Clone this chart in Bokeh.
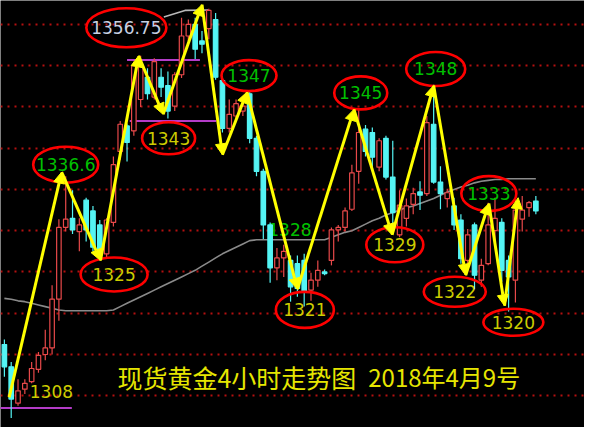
from bokeh.plotting import figure
from bokeh.models import ColumnDataSource, Range1d, Arrow, NormalHead, FixedTicker
from bokeh.core.properties import value
from bokeh.embed import file_html
from bokeh.resources import INLINE

# ---------------- data ----------------
opens = [1316.2, 1313.5, 1309.1, 1310.8, 1311.7, 1313.2, 1315.0, 1315.8, 1321.7, 1330.4,
         1331.5, 1329.9, 1333.7, 1332.4, 1330.7, 1327.2, 1331.0, 1339.6, 1342.7, 1342.1,
         1345.9, 1348.6, 1346.2, 1348.6, 1347.6, 1345.1, 1348.9, 1353.6, 1355.0, 1353.0,
         1354.5, 1355.6, 1348.2, 1342.4, 1343.9, 1344.5, 1346.6, 1341.2, 1337.2, 1330.7,
         1325.5, 1326.7, 1326.4, 1326.0, 1326.4, 1322.8, 1324.0, 1325.0, 1326.4, 1330.1,
         1330.4, 1332.6, 1337.2, 1342.3, 1341.9, 1337.7, 1341.2, 1336.5, 1329.5, 1331.5,
         1333.2, 1334.7, 1334.5, 1342.9, 1335.9, 1333.9, 1333.0, 1331.3, 1326.4, 1330.7,
         1324.0, 1326.0, 1330.0, 1331.0, 1326.4, 1324.0, 1331.4, 1332.8, 1333.6]
highs = [1316.8, 1314.1, 1312.0, 1312.0, 1314.1, 1315.3, 1318.0, 1323.4, 1331.4, 1336.6,
         1334.9, 1331.5, 1334.0, 1333.0, 1331.3, 1331.5, 1339.0, 1343.3, 1343.0, 1350.5,
         1351.2, 1349.7, 1350.9, 1349.7, 1349.3, 1349.2, 1355.8, 1355.6, 1355.8, 1354.2,
         1356.9, 1356.4, 1348.6, 1345.9, 1345.9, 1345.9, 1347.0, 1341.5, 1337.5, 1331.0,
         1327.9, 1328.3, 1327.0, 1327.0, 1327.2, 1324.9, 1326.4, 1325.3, 1330.4, 1330.7,
         1332.8, 1338.0, 1344.7, 1342.8, 1342.5, 1341.2, 1341.5, 1340.9, 1334.9, 1333.9,
         1335.2, 1336.0, 1343.9, 1347.7, 1337.8, 1335.1, 1334.0, 1332.0, 1330.2, 1331.0,
         1326.6, 1333.4, 1334.0, 1331.5, 1327.0, 1334.0, 1334.2, 1333.6, 1334.2]
lows = [1312.3, 1307.3, 1308.8, 1310.2, 1311.5, 1312.8, 1314.3, 1315.0, 1319.1, 1329.9,
        1329.6, 1327.5, 1328.7, 1327.5, 1326.4, 1326.7, 1330.5, 1338.6, 1338.4, 1341.5,
        1345.0, 1345.9, 1345.9, 1346.2, 1343.6, 1344.5, 1348.5, 1353.0, 1350.8, 1351.5,
        1353.2, 1348.3, 1341.9, 1341.9, 1343.5, 1343.9, 1340.6, 1336.6, 1329.0, 1323.7,
        1324.0, 1324.4, 1321.4, 1322.0, 1320.8, 1321.5, 1323.2, 1324.6, 1325.8, 1328.7,
        1329.9, 1332.4, 1335.7, 1339.0, 1337.7, 1337.2, 1336.2, 1329.6, 1329.2, 1330.5,
        1332.0, 1332.5, 1334.2, 1335.7, 1332.6, 1332.8, 1330.1, 1326.0, 1325.8, 1322.9,
        1323.2, 1325.8, 1328.5, 1323.8, 1320.2, 1321.3, 1329.9, 1331.7, 1332.0]
closes = [1313.5, 1309.6, 1310.6, 1311.5, 1313.3, 1314.9, 1315.8, 1321.7, 1330.4, 1331.4,
          1330.1, 1330.7, 1330.1, 1328.0, 1327.2, 1331.3, 1338.0, 1342.9, 1340.7, 1350.0,
          1350.1, 1346.6, 1350.5, 1347.4, 1344.5, 1348.9, 1353.6, 1355.0, 1352.0, 1352.6,
          1356.7, 1348.6, 1342.4, 1344.1, 1345.4, 1345.1, 1341.2, 1337.2, 1330.7, 1325.5,
          1326.7, 1327.5, 1323.2, 1323.0, 1322.7, 1324.0, 1325.2, 1324.8, 1330.1, 1330.4,
          1332.4, 1337.0, 1341.9, 1339.6, 1338.9, 1340.9, 1336.5, 1332.2, 1333.1, 1333.0,
          1334.5, 1334.3, 1343.1, 1335.9, 1334.5, 1334.6, 1330.7, 1326.6, 1329.5, 1324.6,
          1325.8, 1330.7, 1331.5, 1325.2, 1324.4, 1332.5, 1332.5, 1333.4, 1332.4]
ma_line = [1321.8, 1321.7, 1321.5, 1321.4, 1321.2, 1321.0, 1320.8, 1320.6, 1320.4, 1320.3,
           1320.3, 1320.3, 1320.3, 1320.3, 1320.3, 1320.3, 1320.4, 1320.8, 1321.2, 1321.6,
           1322.0, 1322.4, 1322.8, 1323.2, 1323.6, 1324.0, 1324.4, 1324.8, 1325.2, 1325.7,
           1326.2, 1326.7, 1327.2, 1327.6, 1328.0, 1328.4, 1328.8, 1328.9, 1328.9, 1328.9,
           1328.9, 1328.9, 1328.9, 1328.9, 1328.9, 1328.9, 1328.9, 1328.9, 1329.2, 1329.5,
           1329.8, 1330.0, 1330.4, 1330.8, 1331.2, 1331.5, 1331.9, 1332.2, 1332.5, 1332.8,
           1333.0, 1333.3, 1333.6, 1333.9, 1334.3, 1334.7, 1335.0, 1335.3, 1335.5, 1335.8,
           1336.0, 1336.1, 1336.2, 1336.2, 1336.3, 1336.3, 1336.3, 1336.3, 1336.3]

# zig-zag swing points (bar index, price)
zz_x = [0.7, 8.4, 14.1, 19.7, 23.3, 29.0, 32.0, 35.6, 43.0, 51.3, 56.9, 63.0, 67.7, 71.1, 73.4, 75.4]
zz_y = [1309.8, 1337.1, 1326.4, 1351.2, 1344.1, 1357.4, 1339.2, 1346.8, 1322.9, 1344.7,
        1329.5, 1347.6, 1324.6, 1333.3, 1320.9, 1334.0]

# circled price labels
lab_text = ["1356.75", "1336.6", "1343", "1347", "1325", "1345", "1348", "1333",
            "1329", "1321", "1322", "1320"]
lab_x = [17.9, 9.0, 24.1, 35.9, 16.1, 52.3, 63.3, 71.1, 57.3, 44.1, 66.1, 74.7]
lab_y = [1354.6, 1338.0, 1341.2, 1348.8, 1324.7, 1346.7, 1349.6, 1334.5, 1328.3, 1320.4,
         1322.6, 1318.9]
lab_kind = ["top", "g", "y", "g", "y", "g", "g", "g", "y", "y", "y", "y"]

# horizontal support / resistance levels (price, from bar, to bar)
lvl_price = [1308.5, 1350.7, 1343.3]
lvl_from = [-0.6, 18.0, 18.4]
lvl_to = [9.9, 28.7, 31.1]
high_level_x = [23.4, 26.5, 29.9]
high_level_y = [1355.9, 1356.7, 1356.75]

grid_levels = [1310, 1315, 1320, 1325, 1330, 1335, 1340, 1345, 1350, 1355]
title_parts = ["现货黄金4小时走势图", "2018年4月9号"]
title_x = [16.6, 53.4]
title_y = 1312.3

# ---------------- styling ----------------
UP = "#E8494A"
DOWN = "#54F4F4"
BG = "#000000"

p = figure(width=584, height=427, output_backend="svg", toolbar_location=None,
           x_range=Range1d(-0.571, 85.14), y_range=Range1d(1306.15, 1357.9),
           background_fill_color=BG, border_fill_color=BG, min_border=0,
           outline_line_color=None)
p.xaxis.visible = False
p.yaxis.visible = False
p.xgrid.visible = False
p.ygrid.ticker = FixedTicker(ticks=grid_levels)
p.ygrid.grid_line_color = "#B41010"
p.ygrid.grid_line_width = 2
p.ygrid.grid_line_dash = "2 5"

# moving average
p.line(list(range(len(ma_line))), ma_line, line_color="#8A8A8A", line_width=1.6)
# high level line
p.line(high_level_x, high_level_y, line_color="#B8B8B8", line_width=1.6)
# magenta levels
p.segment(x0=lvl_from, y0=lvl_price, x1=lvl_to, y1=lvl_price, line_color="#B43CC8", line_width=2)

# partially hidden label
p.text(x=[41.9], y=[1330.1], text=["1328"], text_font=value("DejaVu Sans"),
       text_font_size="17px", text_color="#00C000", text_align="center", text_baseline="middle")

# candles
n = len(opens)
idx = list(range(n))
is_up = [c >= o for o, c in zip(opens, closes)]
src = ColumnDataSource(dict(
    x=idx, h=highs, l=lows,
    top=[max(o, c) for o, c in zip(opens, closes)],
    bot=[min(o, c) for o, c in zip(opens, closes)],
    col=[UP if u else DOWN for u in is_up],
    fill=[BG if u else DOWN for u in is_up],
))
p.segment(x0="x", y0="h", x1="x", y1="l", line_color="col", line_width=1.2, source=src)
p.vbar(x="x", top="top", bottom="bot", width=0.66, fill_color="fill", line_color="col",
       line_width=1.2, source=src)

# zig-zag arrows
asrc = ColumnDataSource(dict(x0=zz_x[:-1], y0=zz_y[:-1], x1=zz_x[1:], y1=zz_y[1:]))
p.add_layout(Arrow(end=NormalHead(size=11, fill_color="#FFFF00", line_color="#FFFF00", line_width=1),
                   x_start="x0", y_start="y0", x_end="x1", y_end="y1",
                   line_color="#FFFF00", line_width=3, source=asrc))

# ellipses + labels
ell_w = [80, 65, 53, 55, 67, 53, 59, 55, 57, 58, 62, 60]
ell_h = [39, 36, 32, 31, 34, 33, 34, 35, 35, 36, 30, 27]
colmap = {"top": "#C8D0E2", "g": "#00C000", "y": "#CDCD00"}
lsrc = ColumnDataSource(dict(x=lab_x, y=lab_y, t=lab_text, w=ell_w, hh=ell_h,
                             c=[colmap[k] for k in lab_kind]))
p.ellipse(x="x", y="y", width="w", height="hh", width_units="screen", height_units="screen",
          fill_alpha=0, line_color="#FF0000", line_width=2.6, source=lsrc)
p.text(x="x", y="y", text="t", text_color="c", text_font=value("DejaVu Sans"),
       text_font_size="17px", text_align="center", text_baseline="middle", source=lsrc)

p.text(x=[6.9], y=[1310.5], text=["1308"], text_font=value("DejaVu Sans"),
       text_font_size="17px", text_color="#CDCD00", text_align="center", text_baseline="middle")

# title
tsrc = ColumnDataSource(dict(x=title_x, y=[title_y, title_y], t=title_parts,
                             fs=["25px", "24px"]))
p.text(x="x", y="y", text="t", text_font=value("Noto Sans CJK SC"), text_font_size="fs",
       text_color="#E6E600", text_align="left", text_baseline="middle", source=tsrc)

open("out.html", "w").write(file_html(p, INLINE))
